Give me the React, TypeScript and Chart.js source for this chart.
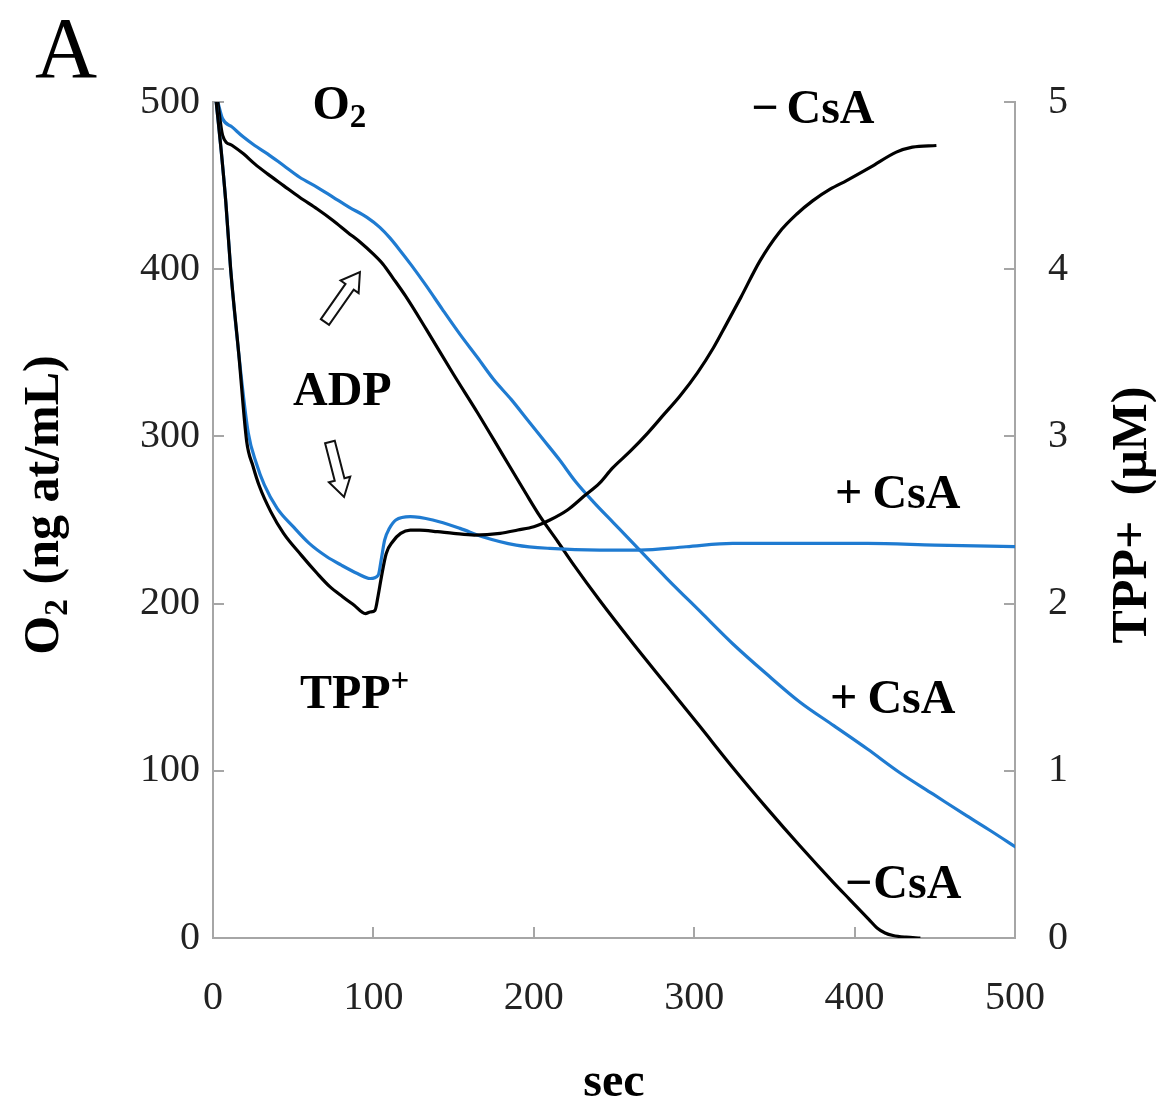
import React, { useEffect, useRef } from 'react';
import { Chart, registerables } from 'chart.js';

Chart.register(...registerables);

// ---------- data ----------
const X_TICKS = [0, 100, 200, 300, 400, 500];
const O2_TICKS = [0, 100, 200, 300, 400, 500];
const TPP_TICKS = [0, 1, 2, 3, 4, 5];

// TPP+ (µM) vs time (sec), without cyclosporin A
const tppMinusCsA: [number, number][] = [
  [2, 5.0], [5, 4.72], [8, 4.4], [11, 4.0], [16, 3.5], [21, 2.97], [25, 2.82], [29, 2.7],
  [36, 2.55], [44, 2.42], [55, 2.29], [65, 2.18], [73, 2.1], [81, 2.04], [88, 1.99], [95, 1.94],
  [98, 1.95], [101, 1.96], [103, 2.05], [105, 2.16], [108, 2.3], [112, 2.37], [117, 2.42],
  [123, 2.44], [129, 2.44], [140, 2.43], [150, 2.42], [163, 2.41], [179, 2.42], [190, 2.44],
  [200, 2.46], [210, 2.5], [221, 2.56], [231, 2.64], [241, 2.72], [249, 2.81], [260, 2.91],
  [271, 3.02], [281, 3.13], [291, 3.24], [302, 3.38], [312, 3.53], [320, 3.67], [329, 3.83],
  [341, 4.05], [353, 4.22], [364, 4.33], [374, 4.41], [385, 4.48], [395, 4.53], [410, 4.61],
  [426, 4.7], [436, 4.73], [451, 4.74],
];

// TPP+ (µM) vs time (sec), with cyclosporin A
const tppPlusCsA: [number, number][] = [
  [2, 5.0], [5, 4.72], [8, 4.4], [11, 4.0], [16, 3.5], [22, 3.02], [27, 2.84], [32, 2.71],
  [40, 2.57], [50, 2.46], [60, 2.36], [71, 2.28], [80, 2.23], [90, 2.18], [98, 2.15],
  [103, 2.17], [105, 2.27], [107, 2.38], [110, 2.45], [114, 2.5], [123, 2.52], [137, 2.5],
  [154, 2.45], [168, 2.4], [189, 2.35], [210, 2.33], [241, 2.32], [266, 2.32], [295, 2.34],
  [324, 2.36], [360, 2.36], [408, 2.36], [450, 2.35], [501, 2.34],
];

// O2 (ng at/mL) vs time (sec), without cyclosporin A
const o2MinusCsA: [number, number][] = [
  [3, 500], [6, 480], [12, 474], [19, 469], [26, 463], [34, 457], [44, 450], [54, 443],
  [65, 436], [75, 429], [84, 422], [92, 416], [100, 409], [106, 403], [112, 395], [120, 384],
  [133, 364], [150, 337], [165, 314], [180, 290], [195, 266], [204, 252], [215, 237],
  [225, 223], [241, 202], [262, 176], [283, 151], [304, 126], [324, 102], [345, 78],
  [366, 55], [387, 33], [397, 23], [403, 17], [409, 11], [414, 6], [419, 3], [424, 1.5],
  [432, 0.5], [441, 0],
];

// O2 (ng at/mL) vs time (sec), with cyclosporin A
const o2PlusCsA: [number, number][] = [
  [3, 500], [6, 490], [12, 485], [19, 479], [26, 474], [34, 469], [44, 462], [54, 455],
  [65, 449], [75, 443], [85, 437], [96, 431], [104, 425], [110, 419], [116, 412], [124, 402],
  [133, 390], [143, 376], [154, 361], [165, 347], [175, 334], [186, 322], [196, 310],
  [206, 298], [216, 286], [226, 273], [237, 261], [250, 248], [262, 236], [283, 215],
  [304, 195], [324, 176], [345, 158], [366, 141], [387, 127], [408, 113], [428, 99],
  [449, 86], [470, 73], [485, 64], [501, 54],
];

// annotation texts, anchored in data units (sec, O2)
type Part = { t: string; sub?: boolean; sup?: boolean; gap?: number };
const LABELS: { parts: Part[]; at: [number, number] }[] = [
  { parts: [{ t: 'O' }, { t: '2', sub: true }], at: [62, 490] },
  { parts: [{ t: '\u2212' }, { t: 'CsA', gap: 8 }], at: [335.5, 487.4] },
  { parts: [{ t: 'ADP' }], at: [49.9, 318.8] },
  { parts: [{ t: '+' }, { t: 'CsA', gap: 10 }], at: [387.8, 257.2] },
  { parts: [{ t: 'TPP' }, { t: '+', sup: true }], at: [54.2, 137.6] },
  { parts: [{ t: '+' }, { t: 'CsA', gap: 10 }], at: [384.7, 134.6] },
  { parts: [{ t: '\u2212' }, { t: 'CsA', gap: 1 }], at: [394.0, 23.9] },
];
const ARROWS: { from: [number, number]; to: [number, number] }[] = [
  { from: [69.8, 368.4], to: [91.6, 398.3] },
  { from: [72.9, 296.7], to: [81.7, 263.8] },
];
const PANEL_LETTER = 'A';
const X_TITLE = 'sec';
const LEFT_TITLE: Part[] = [{ t: 'O' }, { t: '2', sub: true }, { t: ' (ng at/mL)', gap: 2 }];
const RIGHT_TITLE = 'TPP+  (\u03bcM)';

// ---------- styling ----------
const SERIF = "'Liberation Serif', 'Times New Roman', 'DejaVu Serif', serif";
const fnt = (size: number, bold = true) => `${bold ? 'bold ' : ''}${size}px ${SERIF}`;
const BLUE = '#1f7bd1';
const BLACK = '#000000';
const AXIS = '#a6a6a6';
const W = 1156;
const H = 1113;

function richWidth(ctx: CanvasRenderingContext2D, parts: Part[], size: number) {
  let w = 0;
  for (const p of parts) {
    const s = p.sub || p.sup ? Math.round(size * 0.68) : size;
    ctx.font = fnt(s);
    w += (p.gap || 0) + ctx.measureText(p.t).width;
  }
  return w;
}

function drawRich(ctx: CanvasRenderingContext2D, x: number, y: number, parts: Part[], size: number) {
  let cx = x;
  for (const p of parts) {
    cx += p.gap || 0;
    const s = p.sub || p.sup ? Math.round(size * 0.68) : size;
    ctx.font = fnt(s);
    const dy = p.sub ? size * 0.17 : p.sup ? -size * 0.36 : 0;
    ctx.fillText(p.t, cx, y + dy);
    cx += ctx.measureText(p.t).width;
  }
}

function drawArrow(ctx: CanvasRenderingContext2D, x0: number, y0: number, x1: number, y1: number) {
  const dx = x1 - x0;
  const dy = y1 - y0;
  const L = Math.hypot(dx, dy);
  const ux = dx / L;
  const uy = dy / L;
  const nx = -uy;
  const ny = ux;
  const sw = 5;
  const hw = 11;
  const hl = 18;
  const pt = (a: number, b: number): [number, number] => [x0 + ux * a + nx * b, y0 + uy * a + ny * b];
  const poly = [pt(0, -sw), pt(L - hl, -sw), pt(L - hl, -hw), pt(L, 0), pt(L - hl, hw), pt(L - hl, sw), pt(0, sw)];
  ctx.beginPath();
  poly.forEach(([px, py], i) => (i ? ctx.lineTo(px, py) : ctx.moveTo(px, py)));
  ctx.closePath();
  ctx.fillStyle = '#ffffff';
  ctx.fill();
  ctx.lineWidth = 2;
  ctx.strokeStyle = '#111';
  ctx.stroke();
}

const annotationPlugin = {
  id: 'annotations',
  afterDraw(chart: any) {
    const ctx: CanvasRenderingContext2D = chart.ctx;
    const xs = chart.scales.x;
    const ys = chart.scales.y;
    ctx.save();
    ctx.fillStyle = '#000';
    ctx.textAlign = 'left';
    ctx.textBaseline = 'alphabetic';

    // panel letter
    ctx.font = fnt(86, false);
    ctx.fillText(PANEL_LETTER, xs.getPixelForValue(-111), ys.getPixelForValue(515));

    // in-plot labels
    for (const l of LABELS) {
      ctx.fillStyle = '#000';
      drawRich(ctx, xs.getPixelForValue(l.at[0]), ys.getPixelForValue(l.at[1]), l.parts, 48);
    }
    // arrows
    for (const a of ARROWS) {
      drawArrow(
        ctx,
        xs.getPixelForValue(a.from[0]), ys.getPixelForValue(a.from[1]),
        xs.getPixelForValue(a.to[0]), ys.getPixelForValue(a.to[1])
      );
    }

    // left axis title (rotated)
    ctx.fillStyle = '#000';
    const lw = richWidth(ctx, LEFT_TITLE, 50);
    ctx.save();
    ctx.translate(58, 505);
    ctx.rotate(-Math.PI / 2);
    drawRich(ctx, -lw / 2, 0, LEFT_TITLE, 50);
    ctx.restore();

    // right axis title (rotated, reading upward)
    ctx.save();
    ctx.font = fnt(50);
    const rw = ctx.measureText(RIGHT_TITLE).width;
    ctx.translate(1146, 515);
    ctx.rotate(-Math.PI / 2);
    ctx.fillText(RIGHT_TITLE, -rw / 2, 0);
    ctx.restore();

    ctx.restore();
  },
};

function toPoints(arr: [number, number][]) {
  return arr.map(([x, y]) => ({ x, y }));
}

export default function App() {
  const ref = useRef<HTMLCanvasElement | null>(null);

  useEffect(() => {
    if (!ref.current) return;
    const tickFont = { family: SERIF, size: 40, weight: 'normal' as const };
    const chart = new Chart(ref.current, {
      type: 'line',
      data: {
        datasets: [
          {
            label: 'TPP+ −CsA', data: toPoints(tppMinusCsA), yAxisID: 'y1',
            borderColor: BLACK, borderWidth: 3.2, pointRadius: 0, cubicInterpolationMode: 'monotone',
          },
          {
            label: 'TPP+ +CsA', data: toPoints(tppPlusCsA), yAxisID: 'y1',
            borderColor: BLUE, borderWidth: 3.2, pointRadius: 0, cubicInterpolationMode: 'monotone',
          },
          {
            label: 'O2 −CsA', data: toPoints(o2MinusCsA), yAxisID: 'y',
            borderColor: BLACK, borderWidth: 3.2, pointRadius: 0, cubicInterpolationMode: 'monotone',
          },
          {
            label: 'O2 +CsA', data: toPoints(o2PlusCsA), yAxisID: 'y',
            borderColor: BLUE, borderWidth: 3.2, pointRadius: 0, cubicInterpolationMode: 'monotone',
          },
        ],
      },
      options: {
        responsive: false,
        animation: false,
        devicePixelRatio: 1,
        layout: { padding: { top: 102, left: 0, right: 0, bottom: 0 } },
        plugins: { legend: { display: false }, tooltip: { enabled: false }, title: { display: false } },
        scales: {
          x: {
            type: 'linear', min: 0, max: 500,
            afterBuildTicks: (axis: any) => { axis.ticks = X_TICKS.map((v) => ({ value: v })); },
            afterFit: (axis: any) => { axis.height = H - 938; },
            grid: { drawOnChartArea: false, drawTicks: true, tickLength: -11, color: AXIS, lineWidth: 2 },
            border: { display: true, color: AXIS, width: 2 },
            ticks: { font: tickFont, color: '#222', padding: 47, maxRotation: 0 },
            title: { display: true, text: X_TITLE, font: { family: SERIF, size: 48, weight: 'bold' }, color: '#000', padding: { top: 0, bottom: 1 } },
          },
          y: {
            type: 'linear', position: 'left', min: 0, max: 500,
            afterBuildTicks: (axis: any) => { axis.ticks = O2_TICKS.map((v) => ({ value: v })); },
            afterFit: (axis: any) => { axis.width = 213; },
            grid: { drawOnChartArea: false, drawTicks: true, tickLength: -11, color: AXIS, lineWidth: 2 },
            border: { display: true, color: AXIS, width: 2 },
            ticks: { font: tickFont, color: '#222', padding: 24 },
          },
          y1: {
            type: 'linear', position: 'right', min: 0, max: 5,
            afterBuildTicks: (axis: any) => { axis.ticks = TPP_TICKS.map((v) => ({ value: v })); },
            afterFit: (axis: any) => { axis.width = W - 1015; },
            grid: { drawOnChartArea: false, drawTicks: true, tickLength: -11, color: AXIS, lineWidth: 2 },
            border: { display: true, color: AXIS, width: 2 },
            ticks: { font: tickFont, color: '#222', padding: 44 },
          },
        },
      } as any,
      plugins: [annotationPlugin],
    });
    return () => chart.destroy();
  }, []);

  return (
    <div style={{ position: 'absolute', left: 0, top: 0, width: W, height: H, background: '#fff' }}>
      <canvas ref={ref} width={W} height={H} style={{ display: 'block', width: W, height: H }} />
    </div>
  );
}
